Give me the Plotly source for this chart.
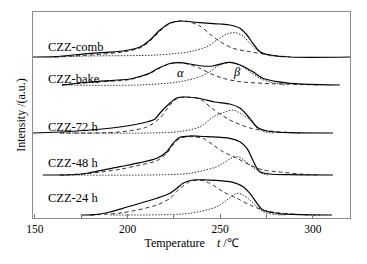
import plotly.graph_objects as go

# ---- data (temperature in °C, intensity in a.u. above each curve's own baseline) ----
samples = ["CZZ-comb", "CZZ-bake", "CZZ-72 h", "CZZ-48 h", "CZZ-24 h"]

comb_total_t = [149, 160.8, 179.7, 197.5, 206.7, 212.1, 217.5, 222.9, 228.3, 239.0, 249.8, 255.2, 260.6, 264.4, 267.6, 271.4, 276.8, 287.6, 320]
comb_total_i = [0, 0.3, 3.7, 6, 10, 17, 27, 34, 36, 34.3, 33, 32, 28.7, 22, 13.7, 5.3, 2, 0, 0]
comb_alpha_t = [160.8, 179.7, 197.5, 206.7, 212.1, 217.5, 222.9, 228.3, 233.6, 239.0, 244.4, 249.8, 256.9, 266.0, 276.8, 287.6]
comb_alpha_i = [0, 2, 5, 9, 16, 26, 33.5, 36, 35, 31, 23, 15.5, 8.7, 5.3, 2, 0]
comb_beta_t = [160.8, 179.7, 215.8, 233.6, 242.8, 248.2, 253.6, 257.9, 262.3, 266.0, 269.8, 275.2, 284.9]
comb_beta_i = [0, 1, 2, 5.3, 10.3, 17, 23, 24.3, 21, 13.7, 7, 2, 0]

bake_total_t = [164.6, 179.7, 201.3, 206.7, 212.1, 215.8, 222.9, 228.3, 233.6, 240.7, 246.1, 251.5, 255.2, 260.6, 267.6, 273.0, 280.6, 287.6, 303.8, 314.6]
bake_total_i = [0, 3, 6, 8.5, 12, 16, 21.5, 22.3, 21, 19, 19, 21.7, 22.7, 20, 13.3, 6.7, 3.3, 1.7, 0.3, 0]
bake_alpha_t = [164.6, 179.7, 201.3, 212.1, 215.8, 222.9, 228.3, 233.6, 239.0, 244.4, 251.5, 260.6, 273.0, 293.0, 303.8]
bake_alpha_i = [0, 2.5, 5.5, 11.5, 15.5, 21.3, 22.3, 20.5, 16.7, 11.7, 6.7, 3.3, 1.7, 0.5, 0]
bake_beta_t = [164.6, 206.7, 228.3, 239.0, 244.4, 249.8, 255.2, 260.6, 266.0, 271.4, 276.8, 284.9]
bake_beta_i = [0, 0, 3.3, 8.3, 13.3, 20, 22.7, 20, 13.3, 6.7, 3, 0]

h72_total_t = [148.9, 172.7, 195.9, 210.4, 214.8, 217.5, 222.9, 226.6, 230.9, 239.0, 247.1, 255.2, 260.6, 264.4, 267.1, 269.8, 272.5, 276.8, 287.6, 310.8]
h72_total_i = [0, 2, 6, 11, 14, 20, 30, 35, 36, 34.5, 31, 29, 25, 18, 12, 6, 3.5, 1.5, 0.3, 0]
h72_alpha_t = [163.5, 195.9, 210.4, 217.5, 222.9, 227.2, 230.9, 239.0, 246.1, 255.2, 266.0, 276.8, 293.0]
h72_alpha_i = [0, 1, 6, 15, 28, 35, 36, 34, 24, 13, 5, 2, 0]
h72_beta_t = [163.5, 212.1, 228.3, 239.0, 246.1, 252.5, 256.9, 262.3, 266.0, 269.8, 274.1, 279.5]
h72_beta_i = [0, 0, 1.5, 6, 16, 21, 23, 18, 13, 5, 1, 0]

h48_total_t = [154.3, 172.7, 179.7, 195.9, 206.7, 215.8, 221.2, 224.5, 228.3, 233.6, 242.8, 255.2, 260.6, 264.4, 267.6, 269.8, 271.4, 276.8, 287.6, 310.8]
h48_total_i = [0, 0.5, 2.3, 8.3, 12.3, 16.7, 23.3, 31.7, 37.7, 39, 38.3, 36.7, 33.3, 26.7, 15, 6.7, 3.3, 1, 0.3, 0]
h48_alpha_t = [163.5, 179.7, 195.9, 206.7, 215.8, 221.2, 224.5, 228.3, 233.6, 240.7, 246.1, 251.5, 259.0, 266.0, 273.0, 280.6, 293.0, 303.8]
h48_alpha_i = [0, 1.7, 5.7, 10, 14.3, 21.7, 30, 36.7, 38.3, 36.7, 30, 23.3, 16.7, 10, 5, 3.3, 1, 0]
h48_beta_t = [163.5, 212.1, 233.6, 248.2, 251.5, 256.9, 259.6, 262.3, 266.0, 269.8, 273.0, 276.8]
h48_beta_i = [0, 0, 1.7, 8.3, 11.7, 17.7, 18.3, 15.7, 10, 5, 1, 0]

h24_total_t = [174.8, 182.4, 190.5, 197.5, 215.8, 222.9, 226.6, 229.9, 235.3, 242.8, 255.2, 262.3, 266.0, 269.8, 273.0, 280.6, 293.0, 310.3]
h24_total_i = [0, 0.3, 3, 6.7, 16.7, 21.7, 26.7, 31.7, 35, 35, 33.3, 28.3, 21.7, 11.7, 5, 1.7, 0.3, 0]
h24_alpha_t = [179.7, 197.5, 215.8, 222.9, 228.3, 233.6, 239.0, 244.4, 251.5, 259.0, 266.0, 273.0, 280.6, 293.0, 303.8]
h24_alpha_i = [0, 2.3, 10, 16.7, 26.7, 33.3, 35, 31.7, 23.3, 16.7, 10, 5, 2.3, 0.5, 0]
h24_beta_t = [190.5, 233.6, 248.2, 253.6, 259.0, 262.3, 266.0, 269.8, 273.0, 279.5, 284.9]
h24_beta_i = [0, 1.7, 8.3, 15, 21.7, 20, 15, 8.3, 3.3, 0.5, 0]

x_ticks = [150, 200, 250, 300]

# ---- presentation ----
offsets = {"CZZ-comb": 161, "CZZ-bake": 133, "CZZ-72 h": 85, "CZZ-48 h": 43, "CZZ-24 h": 3}
label_y = {"CZZ-comb": 171.3, "CZZ-bake": 139, "CZZ-72 h": 91.3, "CZZ-48 h": 54.7, "CZZ-24 h": 20.2}

series = {
    "CZZ-comb": (comb_total_t, comb_total_i, comb_alpha_t, comb_alpha_i, comb_beta_t, comb_beta_i),
    "CZZ-bake": (bake_total_t, bake_total_i, bake_alpha_t, bake_alpha_i, bake_beta_t, bake_beta_i),
    "CZZ-72 h": (h72_total_t, h72_total_i, h72_alpha_t, h72_alpha_i, h72_beta_t, h72_beta_i),
    "CZZ-48 h": (h48_total_t, h48_total_i, h48_alpha_t, h48_alpha_i, h48_beta_t, h48_beta_i),
    "CZZ-24 h": (h24_total_t, h24_total_i, h24_alpha_t, h24_alpha_i, h24_beta_t, h24_beta_i),
}

FONT = "Liberation Serif"
fig = go.Figure()

for name in samples:
    tt, ti, at, ai, bt, bi = series[name]
    off = offsets[name]
    fig.add_trace(go.Scatter(x=bt, y=[v + off for v in bi], mode="lines",
                             line=dict(color="#333333", width=1, dash="1.5px,1.5px", shape="spline", smoothing=0.8),
                             showlegend=False, hoverinfo="skip"))
    fig.add_trace(go.Scatter(x=at, y=[v + off for v in ai], mode="lines",
                             line=dict(color="#333333", width=1, dash="4px,3px", shape="spline", smoothing=0.8),
                             showlegend=False, hoverinfo="skip"))
    fig.add_trace(go.Scatter(x=tt, y=[v + off for v in ti], mode="lines",
                             line=dict(color="black", width=1.2, shape="spline", smoothing=0.8),
                             showlegend=False, hoverinfo="skip"))
    fig.add_annotation(x=155.9, y=label_y[name], text=name, showarrow=False,
                       xanchor="left", yanchor="middle",
                       font=dict(family=FONT, size=12.5, color="black"))

fig.add_annotation(x=228.3, y=145, text="<i>α</i>", showarrow=False,
                   font=dict(family=FONT, size=12.5, color="#000000"))
fig.add_annotation(x=259.0, y=146, text="<i>β</i>", showarrow=False,
                   font=dict(family=FONT, size=12.5, color="#000000"))

fig.update_layout(
    width=367, height=264,
    margin=dict(l=33, r=17, t=12, b=46, autoexpand=False),
    paper_bgcolor="white", plot_bgcolor="white",
    font=dict(family=FONT, size=11, color="black"),
    xaxis=dict(
        range=[149, 320], tickvals=x_ticks, ticktext=[str(v) for v in x_ticks],
        ticks="inside", ticklen=4, tickcolor="#777777",
        minor=dict(dtick=25, tick0=150, ticks="inside", ticklen=4, tickcolor="#777777"),
        showline=True, mirror=True, linecolor="#8c8c8c", linewidth=1,
        showgrid=False, zeroline=False, automargin=False,
        tickfont=dict(family=FONT, size=11.5, color="black"),
        title=dict(text="Temperature\u00a0\u00a0\u00a0\u00a0<i>t</i> /\u2103",
                   font=dict(family=FONT, size=12, color="black"), standoff=4),
    ),
    yaxis=dict(
        range=[0, 206], showticklabels=False, ticks="",
        showline=True, mirror=True, linecolor="#8c8c8c", linewidth=1,
        showgrid=False, zeroline=False, automargin=False,
        title=dict(text="Intensity /(a.u.)", font=dict(family=FONT, size=12, color="black"), standoff=3),
    ),
)

fig.write_html("out.html", config={"displayModeBar": False, "staticPlot": True},
               post_script="document.body.style.margin='0px';")
